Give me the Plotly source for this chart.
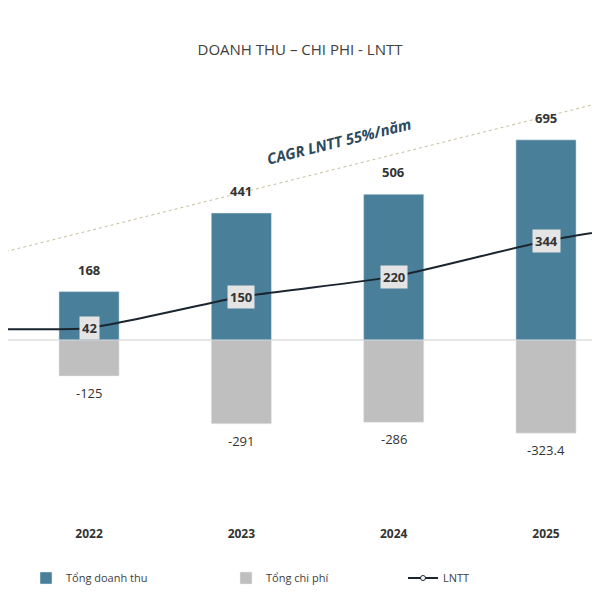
import plotly.graph_objects as go

years = [2022, 2023, 2024, 2025]
revenue = [168, 441, 506, 695]
costs = [-125, -291, -286, -323.4]
cost_labels = ["-125", "-291", "-286", "-323.4"]
lntt_years = [2021, 2022, 2023, 2024, 2025, 2026]
lntt = [40, 42, 150, 220, 344, 430]
lntt_labels = ["42", "150", "220", "344"]
cagr_text = "CAGR LNTT 55%/năm"

BLUE = "#4a7f99"
GRAY = "#bfbfbf"
FONT = "Open Sans"
W = 600.0

fig = go.Figure()
fig.add_trace(go.Bar(x=years, y=revenue, name="Tổng doanh thu", marker_color=BLUE,
                     width=0.395, legend="legend2"))
fig.add_trace(go.Bar(x=years, y=costs, name="Tổng chi phí", marker_color=GRAY,
                     width=0.395, legend="legend3"))
fig.add_trace(go.Scatter(x=lntt_years, y=lntt, name="LNTT", mode="lines+markers",
                         line=dict(color="#1a2530", width=2, shape="spline", smoothing=0.5),
                         marker=dict(size=5, color="white", line=dict(color="#1a2530", width=1)),
                         legend="legend4"))

ann = []
for x, v in zip(years, revenue):
    ann.append(dict(x=x, y=v, text=f"<b>{v}</b>", showarrow=False, yshift=22,
                    font=dict(family=FONT, size=13, color="#333333")))
for x, v, t in zip(years, costs, cost_labels):
    ann.append(dict(x=x, y=v, text=t, showarrow=False, yshift=-17,
                    font=dict(family=FONT, size=13, color="#333333")))
for x, v, t in zip(years, lntt[1:5], lntt_labels):
    ann.append(dict(x=x, y=v, text=f"<b>{t}</b>", showarrow=False,
                    bgcolor="#e4e4e4", borderpad=2,
                    font=dict(family=FONT, size=13, color="#333333")))
ann.append(dict(x=2023.64, y=690, text=f"<b><i>{cagr_text}</i></b>", showarrow=False,
                textangle=-14, font=dict(family=FONT, size=15, color="#2b4a5e")))

leg_font = dict(family=FONT, size=11, color="#404040")
leg_y = 1 - (570 - 72) / 440.0

fig.update_layout(
    width=600, height=600,
    margin=dict(l=0, r=0, t=72, b=88, autoexpand=False),
    paper_bgcolor="white", plot_bgcolor="white",
    barmode="relative",
    title=dict(text="DOANH THU – CHI PHI - LNTT", x=292 / W, xanchor="center",
               y=1 - 42 / 600, yanchor="middle",
               font=dict(family=FONT, size=15, color="#404040")),
    xaxis=dict(range=[2021.468, 2025.407], tickvals=years,
               ticktext=[f"<b>{y}</b>" for y in years], showgrid=False, zeroline=False,
               showline=False, ticks="", ticklabelstandoff=5,
               tickfont=dict(family=FONT, size=12, color="#333333")),
    yaxis=dict(range=[-625, 902.8], visible=False, showgrid=False, zeroline=False),
    shapes=[dict(type="line", xref="x", yref="y", x0=2021.415, x1=2025.354, y0=302, y1=823,
                 line=dict(color="#c8c39a", width=1, dash="dot"), layer="below"),
            dict(type="line", xref="paper", yref="y", x0=0, x1=1, y0=0, y1=0,
                 line=dict(color="#dedede", width=1.5), layer="below")],
    annotations=ann,
    showlegend=True,
    legend2=dict(orientation="h", x=18 / W, y=leg_y, xanchor="left", yanchor="middle",
                 font=leg_font, bgcolor="rgba(0,0,0,0)"),
    legend3=dict(orientation="h", x=218 / W, y=leg_y, xanchor="left", yanchor="middle",
                 font=leg_font, bgcolor="rgba(0,0,0,0)"),
    legend4=dict(orientation="h", x=395 / W, y=leg_y, xanchor="left", yanchor="middle",
                 font=leg_font, bgcolor="rgba(0,0,0,0)"),
)

fig.write_html("out.html")
